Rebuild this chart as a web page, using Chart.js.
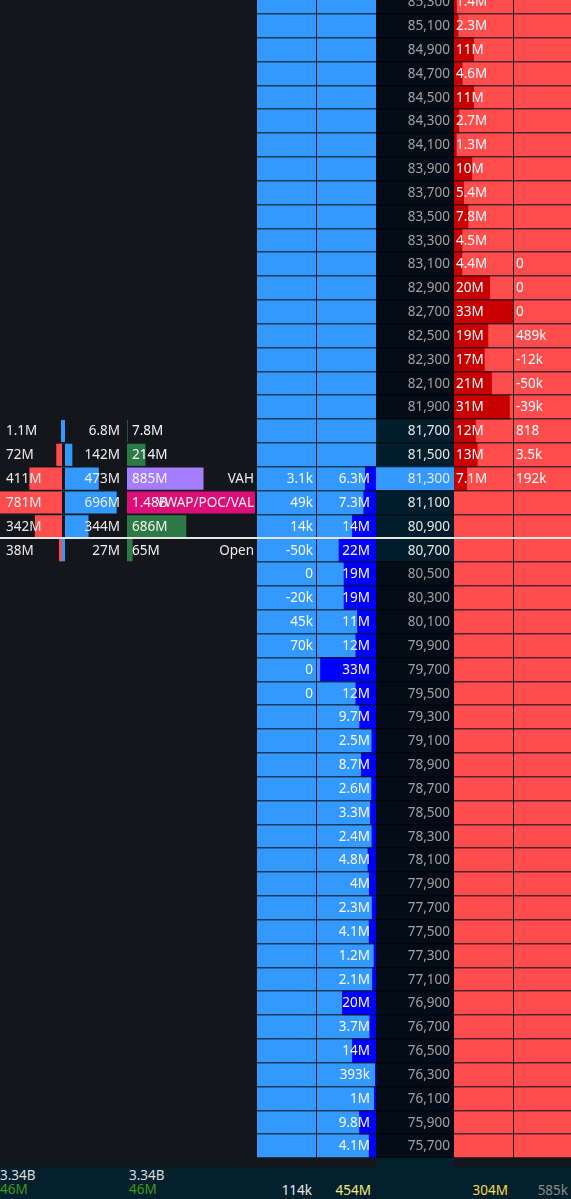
<!DOCTYPE html>
<html lang="en">
<head>
<meta charset="UTF-8">
<title>Footprint ladder</title>
<script src="https://cdn.jsdelivr.net/npm/chart.js@4.4.0"></script>
<style>
  html, body { margin: 0; padding: 0; width: 571px; height: 1199px; overflow: hidden; background: #14161b; font-family: "Noto Sans", sans-serif; }
  .col { position: absolute; top: -10px; height: 1168px; }
  .col canvas { display: block; }
  #footer { position: absolute; left: 0; top: 1167px; width: 571px; height: 32px; background: #03202c; }
  #priceFoot { position: absolute; left: 376px; top: 1158px; width: 78px; height: 9px; background: #03202c; }
  .ft { position: absolute; font-size: 13.5px; line-height: 14px; white-space: nowrap; }
</style>
</head>
<body>
<div id="priceFoot"></div>
<div id="footer">
  <div class="ft" style="left:0;top:1px;color:#dcdcdc">3.34B</div>
  <div class="ft" style="left:0;top:15px;color:#3c9a1c">46M</div>
  <div class="ft" style="left:129px;top:1px;color:#dcdcdc">3.34B</div>
  <div class="ft" style="left:129px;top:15px;color:#3c9a1c">46M</div>
  <div class="ft" style="right:259px;top:16px;color:#e8e8e8">114k</div>
  <div class="ft" style="right:200px;top:16px;color:#f3ea7c">454M</div>
  <div class="ft" style="right:63px;top:16px;color:#f5dc50">304M</div>
  <div class="ft" style="right:3px;top:16px;color:#8a8a8a">585k</div>
</div>
<script>
const priceLevels = [85300, 85100, 84900, 84700, 84500, 84300, 84100, 83900, 83700, 83500, 83300, 83100, 82900, 82700, 82500, 82300, 82100, 81900, 81700, 81500, 81300, 81100, 80900, 80700, 80500, 80300, 80100, 79900, 79700, 79500, 79300, 79100, 78900, 78700, 78500, 78300, 78100, 77900, 77700, 77500, 77300, 77100, 76900, 76700, 76500, 76300, 76100, 75900, 75700];

// ask side, starts at 85,300
const askVolume = ['1.4M', '2.3M', '11M', '4.6M', '11M', '2.7M', '1.3M', '10M', '5.4M', '7.8M', '4.5M', '4.4M', '20M', '33M', '19M', '17M', '21M', '31M', '12M', '13M', '7.1M'];
// ask delta, starts at 83,100
const askDelta = ['0', '0', '0', '489k', '-12k', '-50k', '-39k', '818', '3.5k', '192k'];
// bid side, starts at 81,300
const bidVolume = ['6.3M', '7.3M', '14M', '22M', '19M', '19M', '11M', '12M', '33M', '12M', '9.7M', '2.5M', '8.7M', '2.6M', '3.3M', '2.4M', '4.8M', '4M', '2.3M', '4.1M', '1.2M', '2.1M', '20M', '3.7M', '14M', '393k', '1M', '9.8M', '4.1M'];
const bidDelta = ['3.1k', '49k', '14k', '-50k', '0', '-20k', '45k', '70k', '0', '0'];

// session profile, starts at 81,700
const profileSell = ['1.1M', '72M', '411M', '781M', '342M', '38M'];
const profileBuy = ['6.8M', '142M', '473M', '696M', '344M', '27M'];
const profileTotal = ['7.8M', '214M', '885M', '1.48B', '686M', '65M'];
const profileTags = ['', '', 'VAH', 'VWAP/POC/VAL', '', 'Open'];

const currentPrice = 81300;
const nearPrices = [81700, 81500, 81100, 80900, 80700];
const openPrice = 80700;
const fullGutter = [81700, 80700];

const SEP = 'rgba(14,20,30,0.72)';
const FONT = '13.5px "Noto Sans", sans-serif';

function parseVal(s) {
  if (s === null || s === undefined) return null;
  const n = parseFloat(s);
  const u = s.slice(-1);
  if (u === 'k') return n / 1000;
  if (u === 'M') return n;
  if (u === 'B') return n * 1000;
  return n / 1000000;
}

function rowsFrom(start, arr) {
  const first = priceLevels.indexOf(start);
  return priceLevels.map((p, i) => (i >= first && i - first < arr.length) ? arr[i - first] : null);
}

const rowText = {
  id: 'rowText',
  afterDatasetsDraw(chart, args, opts) {
    if (!opts.items) return;
    const ctx = chart.ctx;
    const yScale = chart.scales.y;
    ctx.save();
    ctx.font = FONT;
    ctx.textBaseline = 'middle';
    opts.items.forEach(item => {
      ctx.textAlign = item.align;
      item.texts.forEach((t, i) => {
        if (!t) return;
        ctx.fillStyle = typeof item.color === 'function' ? item.color(i) : item.color;
        ctx.fillText(t, item.x, yScale.getPixelForValue(i) + 0.5);
      });
    });
    ctx.restore();
  }
};
Chart.register(rowText);

function makeColumn(left, width, max, o) {
  const wrap = document.createElement('div');
  wrap.className = 'col';
  wrap.style.left = left + 'px';
  wrap.style.width = width + 'px';
  if (o.bg) wrap.style.background = o.bg;
  const canvas = document.createElement('canvas');
  canvas.width = width;
  canvas.height = 1168;
  wrap.appendChild(canvas);
  document.body.appendChild(wrap);
  return new Chart(canvas, {
    type: 'bar',
    data: {
      labels: priceLevels,
      datasets: [{
        data: o.data || [],
        backgroundColor: o.color || 'transparent',
        categoryPercentage: 1,
        barPercentage: o.barPct || 1,
        minBarLength: o.minBar || 0
      }]
    },
    options: {
      indexAxis: 'y',
      responsive: false,
      animation: false,
      layout: { padding: 0 },
      scales: {
        x: { type: 'linear', display: false, min: 0, max: max, reverse: !!o.reverse },
        y: {
          type: 'category',
          offset: true,
          ticks: { display: false },
          border: { display: false },
          grid: {
            offset: true,
            drawTicks: false,
            z: 1,
            color: o.gridColor || SEP,
            lineWidth: o.gridWidth || 1.5
          }
        }
      },
      plugins: {
        legend: { display: false },
        tooltip: { enabled: false },
        rowText: { items: o.texts || [] }
      }
    }
  });
}

const sell = rowsFrom(81700, profileSell);
const buy = rowsFrom(81700, profileBuy);
const total = rowsFrom(81700, profileTotal);
const tags = rowsFrom(81700, profileTags);
const askV = rowsFrom(85300, askVolume);
const askD = rowsFrom(83100, askDelta);
const bidV = rowsFrom(81300, bidVolume);
const bidD = rowsFrom(81300, bidDelta);

// session profile: buys, the gutter between sides, then sells
makeColumn(61, 66, 825, {
  data: buy.map(parseVal), color: '#3399ff', barPct: 0.93, minBar: 2, gridColor: 'transparent',
  texts: [{ texts: buy, x: 59, align: 'right', color: '#ececec' }]
});
makeColumn(62, 3, 1, {
  data: buy.map(v => v ? 1 : null),
  color: c => fullGutter.includes(priceLevels[c.dataIndex]) ? '#3399ff' : '#14161b',
  barPct: 0.93, gridColor: 'transparent'
});
makeColumn(0, 62, 781, {
  data: sell.map(parseVal), color: '#ff4d4d', barPct: 0.93, reverse: true, gridColor: 'transparent',
  texts: [{ texts: sell, x: 6, align: 'left', color: '#ececec' }]
});
makeColumn(127, 128, 1480, {
  data: total.map(parseVal),
  color: c => {
    const t = tags[c.dataIndex];
    if (t === 'VAH') return '#a57dff';
    if (t === 'VWAP/POC/VAL') return '#dc0f78';
    return '#2d7a46';
  },
  barPct: 0.93, gridColor: 'transparent',
  texts: [
    { texts: total, x: 5, align: 'left', color: '#f4f4f4' },
    { texts: tags, x: 127, align: 'right', color: '#ececec' }
  ]
});

// bid delta and bid volume
makeColumn(257, 59, 1, {
  bg: '#3399ff',
  texts: [{ texts: bidD, x: 56, align: 'right', color: '#f8f8f8' }]
});
makeColumn(317, 59, 35.1, {
  bg: '#3399ff', data: bidV.map(parseVal), color: '#0000ff', reverse: true,
  texts: [{ texts: bidV, x: 53, align: 'right', color: '#f8f8f8' }]
});

// price ladder
makeColumn(376, 78, 1, {
  data: priceLevels.map(() => 1),
  color: c => {
    const p = priceLevels[c.dataIndex];
    if (p === currentPrice) return '#3399ff';
    return nearPrices.includes(p) ? '#021d2b' : '#040d17';
  },
  gridColor: 'rgba(0,0,0,0.5)',
  texts: [{
    texts: priceLevels.map(p => p.toLocaleString('en-US')), x: 74, align: 'right',
    color: i => {
      const p = priceLevels[i];
      return (p === currentPrice || nearPrices.includes(p)) ? '#e8e8e8' : '#a0a0a0';
    }
  }]
});

// ask volume and ask delta
makeColumn(454, 59, 33, {
  bg: '#ff4d4d', data: askV.map(parseVal), color: '#c80000',
  texts: [{ texts: askV, x: 2, align: 'left', color: '#fafafa' }]
});
makeColumn(514, 57, 1, {
  bg: '#ff4d4d',
  texts: [{ texts: askD, x: 2, align: 'left', color: '#fafafa' }]
});

// white open line across everything
makeColumn(0, 571, 1, {
  gridColor: c => priceLevels[c.index] === openPrice ? '#e6e6e6' : 'transparent',
  gridWidth: 2
});
</script>
</body>
</html>
